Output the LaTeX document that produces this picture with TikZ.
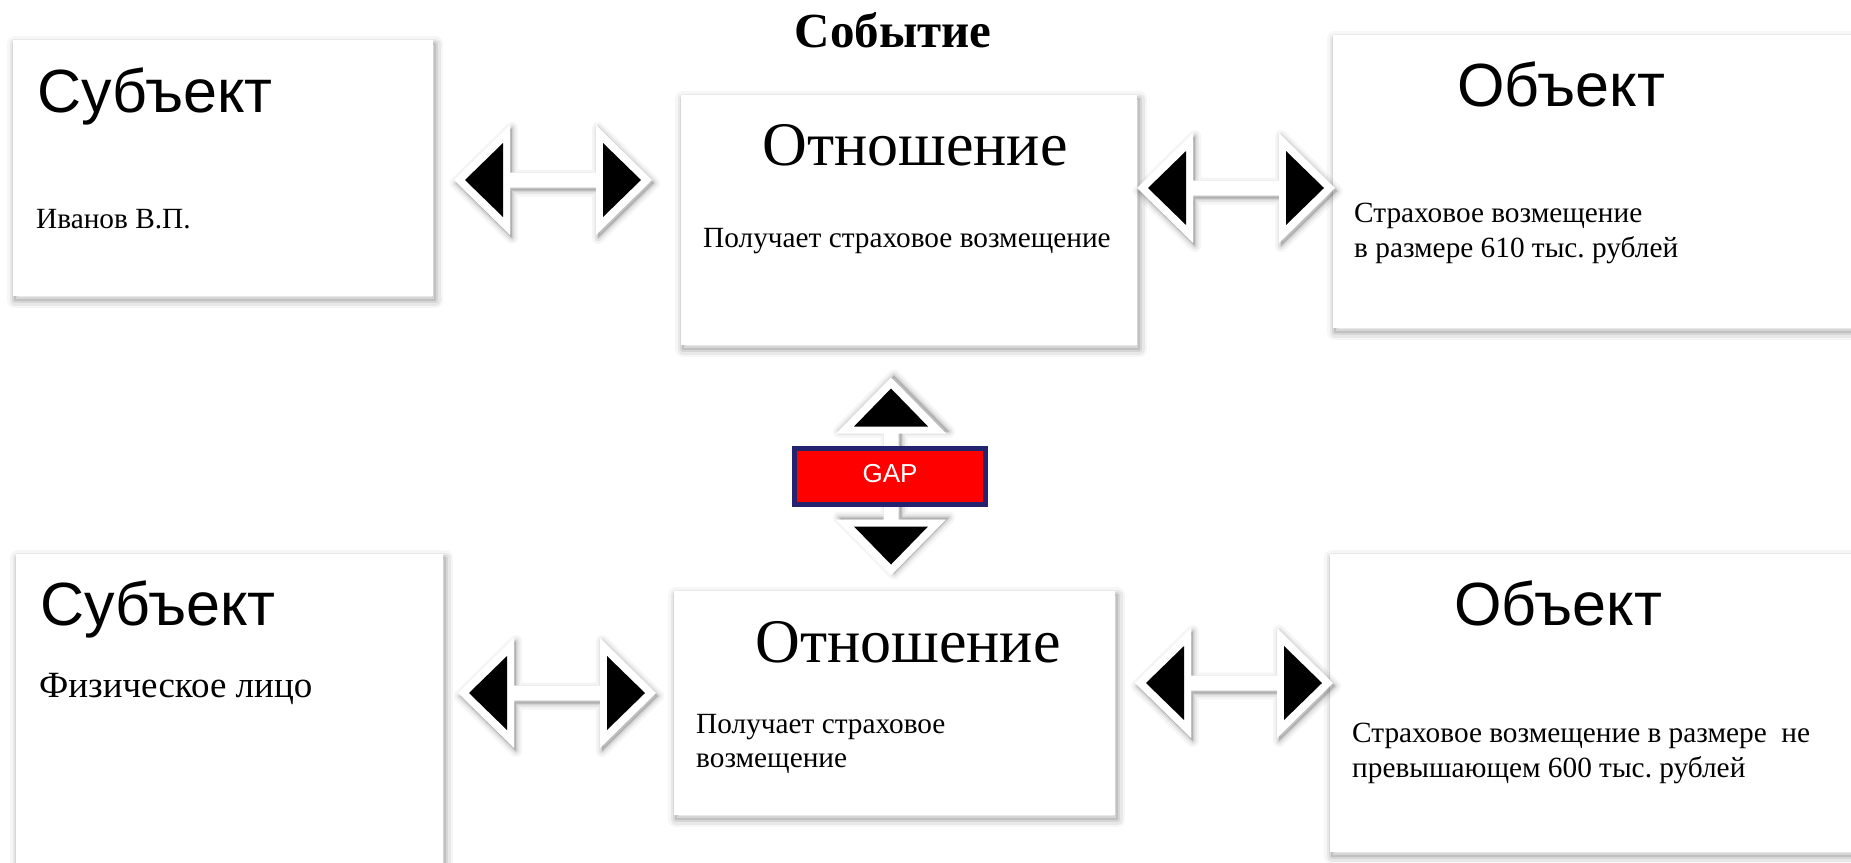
\documentclass[tikz,border=0pt]{standalone}
\usepackage{fontspec}
\setmainfont{Liberation Serif}
\newfontfamily\arialfont{Liberation Sans}
\usetikzlibrary{calc}
\frenchspacing
\pgfdeclarelayer{bg}
\pgfdeclarelayer{shadow}
\pgfsetlayers{bg,shadow,main}
\definecolor{gapred}{RGB}{255,0,0}
\definecolor{gapnavy}{RGB}{35,35,110}
\newcommand\setfs[1]{\fontsize{#1}{#1}\selectfont}
\newcommand\cardshadow[1]{%
  \begin{pgfonlayer}{shadow}
  \foreach \w/\o in {16/0.035,11/0.055,6/0.075,2/0.1}{%
    \draw[line width=\w pt, black, opacity=\o, line join=round]
      ($(#1.north west)+(2,4)$) rectangle ($(#1.south east)+(2,4)$);}
  \end{pgfonlayer}}
\tikzset{
  card/.style={fill=white, draw=none, inner sep=0pt, anchor=north west},
  bigsans/.style={anchor=base west, inner sep=0pt, font=\arialfont\setfs{61}},
  relhead/.style={anchor=base, inner sep=0pt, font=\setfs{62}},
  body/.style={anchor=base west, inner sep=0pt, font=\setfs{29.3}},
  dblarrow/.pic={
    \foreach \w/\o in {12/0.04,7/0.06,3/0.08}{%
      \filldraw[black, opacity=\o, line width=\w pt, line join=round, shift={(2,3)}]
        (-99,0) -- (-43,-55) -- (-43,-7.5) -- (43,-7.5) -- (43,-55) -- (99,0)
        -- (43,55) -- (43,7.5) -- (-43,7.5) -- (-43,55) -- cycle;}
    \fill[white] (-99,0) -- (-43,-55) -- (-43,-7.5) -- (43,-7.5) -- (43,-55) -- (99,0)
        -- (43,55) -- (43,7.5) -- (-43,7.5) -- (-43,55) -- cycle;
    \fill[black] (-88,0) -- (-50,-37) -- (-50,37) -- cycle;
    \fill[black] (88,0) -- (50,-37) -- (50,37) -- cycle;
  }
}
\begin{document}
\begin{tikzpicture}[x=1pt,y=-1pt]
\useasboundingbox (0,0) rectangle (1851,862);
\begin{pgfonlayer}{bg}
\fill[white] (0,0) rectangle (1851,862);
\end{pgfonlayer}
\clip (0,0) rectangle (1851,862);

% cards
\node[card, minimum width=420pt, minimum height=256pt] (subj1) at (13,40) {};
\node[card, minimum width=456pt, minimum height=250pt] (rel1) at (681,95) {};
\node[card, minimum width=560pt, minimum height=293pt] (obj1) at (1333,35) {};
\node[card, minimum width=427pt, minimum height=340pt] (subj2) at (16,554) {};
\node[card, minimum width=441pt, minimum height=224pt] (rel2) at (674,591) {};
\node[card, minimum width=560pt, minimum height=298pt] (obj2) at (1330,554) {};
\cardshadow{subj1}
\cardshadow{rel1}
\cardshadow{obj1}
\cardshadow{subj2}
\cardshadow{rel2}
\cardshadow{obj2}

% title
\node[anchor=base, inner sep=0pt, font=\bfseries\setfs{49}] (title) at (893,47) {Событие};

% texts top row
\node[bigsans] (s1h) at (37,112) {Субъект};
\node[body] (s1t) at (36,228) {Иванов В.П.};
\node[relhead] (r1h) at (915,165) {Отношение};
\node[body] (r1t) at (703,247) {Получает страховое возмещение};
\node[bigsans] (o1h) at (1457,106) {Объект};
\node[body] (o1a) at (1354,222) {Страховое возмещение};
\node[body] (o1b) at (1354,257) {в размере 610 тыс. рублей};

% texts bottom row
\node[bigsans] (s2h) at (40,625) {Субъект};
\node[anchor=base west, inner sep=0pt, font=\setfs{37}] (s2t) at (39,697) {Физическое лицо};
\node[relhead] (r2h) at (908,662) {Отношение};
\node[body] (r2a) at (696,733) {Получает страховое};
\node[body] (r2b) at (696,767) {возмещение};
\node[bigsans] (o2h) at (1454,625) {Объект};
\node[body] (o2a) at (1352,742) {Страховое возмещение в размере~ не};
\node[body] (o2b) at (1352,777) {превышающем 600 тыс. рублей};

% double arrows
\coordinate (a1) at (553,180);
\coordinate (a2) at (1236,188);
\coordinate (a3) at (557,693);
\coordinate (a4) at (1234,683);
\coordinate (a5) at (891,476.5);
\pic at (a1) {dblarrow};
\pic at (a2) {dblarrow};
\pic at (a3) {dblarrow};
\pic at (a4) {dblarrow};
\pic[rotate=90] at (a5) {dblarrow};

% GAP box
\node[draw=gapnavy, line width=5pt, fill=gapred, minimum width=191pt, minimum height=56pt, inner sep=0pt] (gap) at (890,476.5) {};
\node[anchor=base, inner sep=0pt, font=\arialfont\setfs{26}, text=white] (gaptext) at (890,482) {GAP};
\end{tikzpicture}
\end{document}
